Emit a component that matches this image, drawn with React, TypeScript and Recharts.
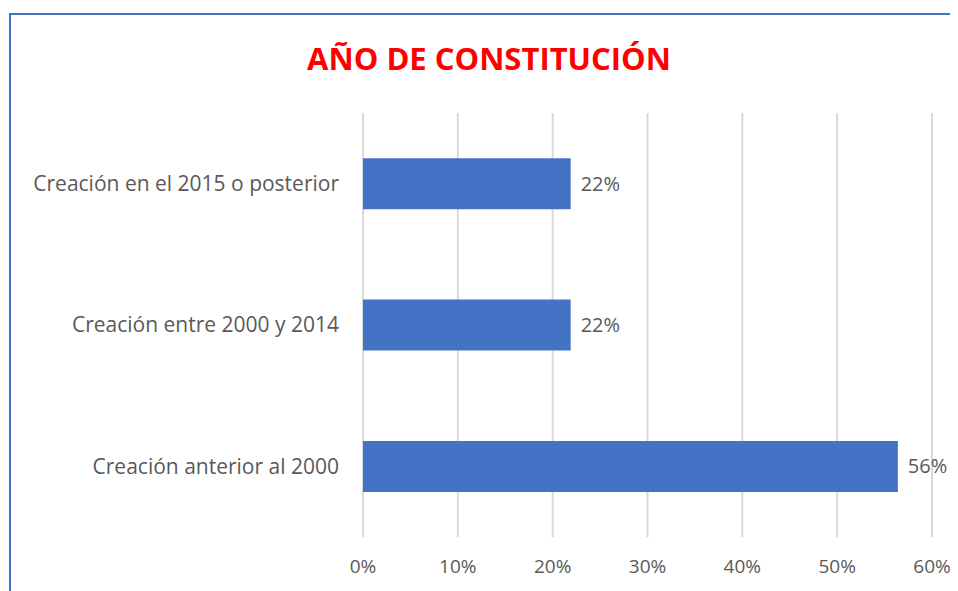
import React from "react";
import { BarChart, Bar, XAxis, YAxis, CartesianGrid, LabelList } from "recharts";

const categories = [
  "Creación en el 2015 o posterior",
  "Creación entre 2000 y 2014",
  "Creación anterior al 2000",
];
const values = [21.9, 21.9, 56.4];
const xTicks = [0, 10, 20, 30, 40, 50, 60];
const title = "AÑO DE CONSTITUCIÓN";

const data = categories.map((c, i) => ({ name: c, value: values[i] }));

const FONT = "'Open Sans', Lato, sans-serif";

export default function App() {
  return (
    <div style={{ position: "relative", width: 950, height: 583, fontFamily: FONT }}>
      <div
        style={{
          position: "absolute",
          left: 1,
          top: 5,
          width: 960,
          height: 600,
          borderLeft: "2px solid #4472C4",
          borderTop: "2px solid #4472C4",
          boxSizing: "border-box",
        }}
      />
      <div
        style={{
          position: "absolute",
          left: 0,
          width: 962,
          top: 29,
          textAlign: "center",
          color: "#FF0000",
          fontWeight: 700,
          fontSize: 31,
          fontFamily: FONT,
        }}
      >
        {title}
      </div>
      <BarChart
        width={950}
        height={583}
        layout="vertical"
        data={data}
        margin={{ top: 105, right: 26, bottom: 0, left: 0 }}
        barCategoryGap="32%"
        style={{ position: "absolute", left: 0, top: 0 }}
      >
        <CartesianGrid horizontal={false} stroke="#d9d9d9" strokeWidth={2} />
        <XAxis
          type="number"
          domain={[0, 60]}
          ticks={xTicks}
          tickFormatter={(v) => `${v}%`}
          axisLine={false}
          tickLine={false}
          tickSize={0}
          tickMargin={23}
          height={54}
          interval={0}
          tick={{ fill: "#595959", fontSize: 19, fontFamily: FONT }}
        />
        <YAxis
          type="category"
          dataKey="name"
          width={355}
          axisLine={false}
          tickLine={false}
          tickSize={0}
          tickMargin={24}
          tick={{ fill: "#595959", fontSize: 21, fontFamily: FONT }}
        />
        <Bar dataKey="value" fill="#4472C4" isAnimationActive={false}>
          <LabelList
            dataKey="value"
            position="right"
            offset={10}
            formatter={(v: number) => `${Math.round(v)}%`}
            style={{ fill: "#595959", fontSize: 20, fontFamily: FONT }}
          />
        </Bar>
      </BarChart>
    </div>
  );
}
